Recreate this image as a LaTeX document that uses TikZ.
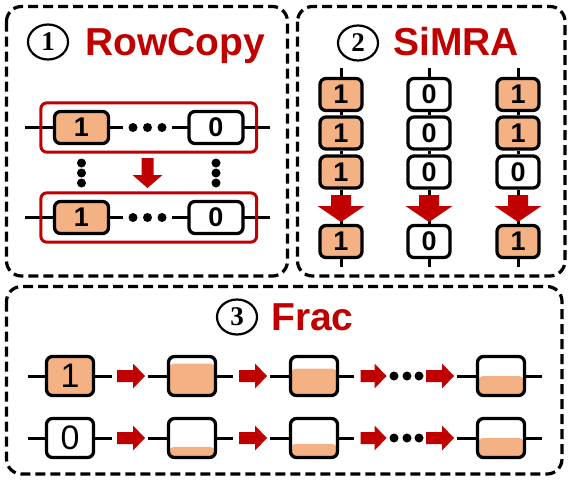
\documentclass[tikz,border=0pt]{standalone}
\usepackage{fontspec}
\setmainfont{Liberation Sans}
\newfontfamily\stepfont{Liberation Serif}
\usetikzlibrary{positioning,fit,calc,shapes.geometric}
\definecolor{darkred}{HTML}{C00000}
\definecolor{bit1}{HTML}{F4B183}
\definecolor{bit0}{rgb}{1,1,1}

\begin{document}
\begin{tikzpicture}[x=1pt, y=-1pt,
    panel/.style={line width=3.2pt, dash pattern=on 10pt off 5pt, rounded corners=15pt},
    title/.style={anchor=base west, inner sep=0pt, text=darkred, font=\fontsize{39}{39}\selectfont\bfseries},
    stepnum/.style={draw, ellipse, line width=2.2pt, minimum width=40pt, minimum height=35pt, inner sep=0pt, font=\fontsize{27}{27}\selectfont\stepfont\bfseries},
    cell/.style={draw, line width=3.3pt, rounded corners=6pt, inner sep=0pt},
    bigcell/.style={cell, minimum width=54pt, minimum height=32pt, font=\fontsize{27}{27}\selectfont\bfseries},
    smallcell/.style={cell, minimum width=42pt, minimum height=32pt, font=\fontsize{27}{27}\selectfont\bfseries},
    fraccell/.style={cell, minimum width=47pt, minimum height=39pt, font=\fontsize{34}{34}\selectfont},
    level/.style={fraccell, path picture={
        \fill[bit1] (path picture bounding box.south west) rectangle
          ($(path picture bounding box.south east)!#1!(path picture bounding box.north east)$);}},
    wire/.style={line width=3pt},
    bead/.style={circle, fill, inner sep=0pt, minimum size=9pt},
    rowbox/.style={draw=darkred, line width=3pt, rounded corners=6pt, inner xsep=12pt, inner ysep=7pt},
    pics/blockarrow/.style n args={4}{code={
        \fill[darkred] ({-#1/2},{-#2/2}) -- ({#1/2-#4},{-#2/2}) -- ({#1/2-#4},{-#3/2}) -- ({#1/2},0)
          -- ({#1/2-#4},{#3/2}) -- ({#1/2-#4},{#2/2}) -- ({-#1/2},{#2/2}) -- cycle;}}]
  \useasboundingbox (0,0) rectangle (569,482);

  % panels
  \draw[panel] (6.5,6.5) rectangle (287.5,276);
  \draw[panel] (297.5,6.5) rectangle (565,276);
  \draw[panel] (6.5,286.5) rectangle (562,474);

  % (1) RowCopy
  \node[stepnum] (n1) at (48,42) {1};
  \node[title] (t1) at (85,55) {RowCopy};

  \coordinate (l1) at (25,127.5);  \coordinate (r1) at (270,127.5);
  \coordinate (m1) at (123,127.5); \coordinate (k1) at (172,127.5);
  \coordinate (l2) at (25,217.5);  \coordinate (r2) at (270,217.5);
  \coordinate (m2) at (123,217.5); \coordinate (k2) at (172,217.5);
  \draw[wire] (l1) -- (m1);
  \draw[wire] (k1) -- (r1);
  \draw[wire] (l2) -- (m2);
  \draw[wire] (k2) -- (r2);
  \node[bigcell, fill=bit1] (src1) at (81.5,127.5) {1};
  \node[bigcell, fill=bit0] (src0) at (216,127.5) {0};
  \node[bigcell, fill=bit1] (dst1) at (81.5,217.5) {1};
  \node[bigcell, fill=bit0] (dst0) at (216,217.5) {0};
  \node[rowbox, fit=(src1)(src0)] (srcrow) {};
  \node[rowbox, fit=(dst1)(dst0)] (dstrow) {};
  \foreach \y in {127.5,217.5} {
    \foreach \x in {133,147.5,162} \node[bead] at (\x,\y) {};
  }
  \foreach \x in {81.5,216} {
    \foreach \y in {163,173,183} \node[bead] at (\x,\y) {};
  }
  \pic[rotate=-90] at (147.5,173) {blockarrow={30}{12}{30}{13}};

  % (2) SiMRA
  \node[stepnum] (n2) at (358,43) {2};
  \node[title] (t2) at (393,55) {SiMRA};

  \foreach \c/\x/\a/\b/\d/\e in {1/341/1/1/1/1, 2/429/0/0/0/0, 3/518/1/1/0/1} {
    \coordinate (top\c) at (\x,68);
    \coordinate (bot\c) at (\x,267);
    \node[smallcell, fill=bit\a] (s\c1) at (\x,94.5) {\a};
    \node[smallcell, fill=bit\b] (s\c2) at (\x,133) {\b};
    \node[smallcell, fill=bit\d] (s\c3) at (\x,172) {\d};
    \node[smallcell, fill=bit\e] (s\c4) at (\x,241.5) {\e};
    \draw[wire] (top\c) -- (s\c1);
    \draw[wire] (s\c1) -- (s\c2);
    \draw[wire] (s\c2) -- (s\c3);
    \draw[wire] (s\c3) -- (s\c4);
    \draw[wire] (s\c4) -- (bot\c);
    \pic[rotate=-90] at (\x,208.5) {blockarrow={27}{20}{47}{16}};
  }

  % (3) Frac
  \node[stepnum] (n3) at (237,317) {3};
  \node[title] (t3) at (271,330) {Frac};

  \foreach \r/\y/\v/\p/\q/\s in {1/376/1/0.82/0.69/0.5, 2/438/0/0.27/0.35/0.5} {
    \node[fraccell, fill=bit\v] (f\r1) at (70,\y) {\v};
    \node[level=\p] (f\r2) at (192,\y) {};
    \node[level=\q] (f\r3) at (314,\y) {};
    \node[level=\s] (f\r4) at (501,\y) {};
    \coordinate (a\r1) at (28,\y);  \coordinate (b\r1) at (112,\y);
    \coordinate (a\r2) at (148,\y); \coordinate (b\r2) at (233,\y);
    \coordinate (a\r3) at (270,\y); \coordinate (b\r3) at (354,\y);
    \coordinate (a\r4) at (457,\y); \coordinate (b\r4) at (542,\y);
    \foreach \k in {1,...,4} {
      \draw[wire] (a\r\k) -- (f\r\k);
      \draw[wire] (f\r\k) -- (b\r\k);
    }
    \pic at (131,\y) {blockarrow={28}{12}{25}{12}};
    \pic at (253,\y) {blockarrow={28}{12}{25}{12}};
    \pic at (373.5,\y) {blockarrow={26}{12}{25}{12}};
    \pic at (440,\y) {blockarrow={28}{12}{25}{12}};
    \foreach \x in {394,407,419} \node[bead] at (\x,\y) {};
  }
\end{tikzpicture}
\end{document}
